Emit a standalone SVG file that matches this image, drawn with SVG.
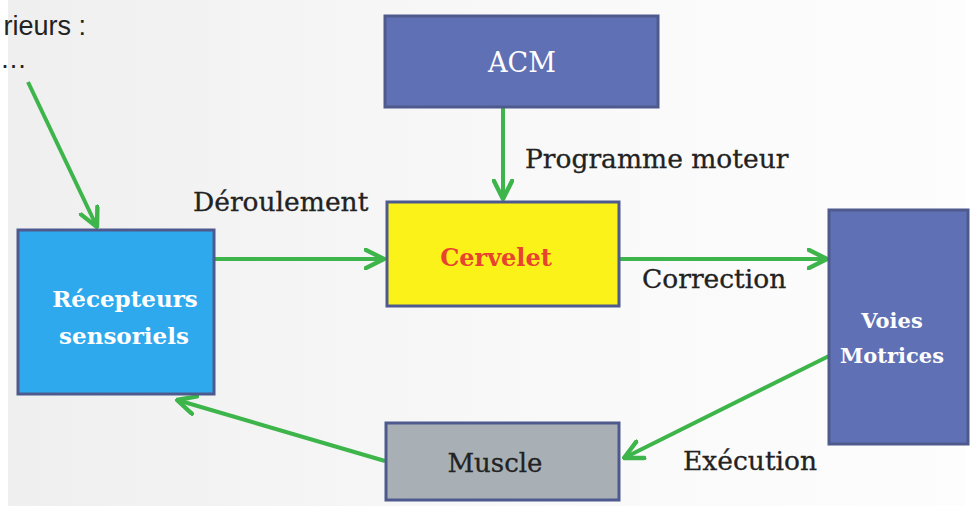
<svg xmlns="http://www.w3.org/2000/svg" width="973" height="507" viewBox="0 0 973 507">
<defs>
<linearGradient id="bg" x1="0" y1="0" x2="1" y2="0">
<stop offset="0" stop-color="#EFEFEF"/>
<stop offset="0.5" stop-color="#F8F8F8"/>
<stop offset="1" stop-color="#FDFDFD"/>
</linearGradient>
<marker id="arr" viewBox="0 0 12 12" refX="11" refY="6" markerWidth="22" markerHeight="22" markerUnits="userSpaceOnUse" orient="auto">
<path d="M1,1 L11,6 L1,11" fill="none" stroke="#3DB54A" stroke-width="2.4" stroke-linecap="round" stroke-linejoin="round"/>
</marker>
</defs>
<style>
.box{stroke:#4E5A8E;stroke-width:3}
.lbl{font-family:"DejaVu Serif","Liberation Serif",serif;font-size:26.5px;fill:#222;stroke:#222;stroke-width:0.3}
.bw{font-family:"DejaVu Serif","Liberation Serif",serif;font-weight:bold;fill:#fff;text-anchor:middle}
.con{stroke:#3DB54A;stroke-width:4;fill:none;marker-end:url(#arr)}
.top{font-family:"Liberation Sans",Arial,sans-serif;font-size:27px;fill:#222}
</style>
<rect x="0" y="0" width="973" height="507" fill="#FFFFFF"/>
<rect x="8" y="0" width="957" height="506" fill="url(#bg)"/>
<text class="top" x="86" y="35" text-anchor="end">rieurs :</text>
<text class="top" x="0" y="68">…</text>
<g id="connectors">
<line class="con" x1="28" y1="82" x2="97" y2="227"/>
<line class="con" x1="503" y1="108" x2="503" y2="199"/>
<line class="con" x1="215" y1="259" x2="384" y2="259"/>
<line class="con" x1="620" y1="259" x2="827" y2="259"/>
<line class="con" x1="829" y1="356" x2="624" y2="458"/>
<line class="con" x1="385" y1="461" x2="177" y2="400"/>
<text class="lbl" x="525" y="168">Programme moteur</text>
<text class="lbl" x="193" y="211">Déroulement</text>
<text class="lbl" x="642" y="288">Correction</text>
<text class="lbl" x="683" y="470">Exécution</text>
</g>
<g id="acm">
<rect class="box" x="385" y="16" width="273" height="91" fill="#6070B4"/>
<text x="522" y="72" font-family="DejaVu Serif, Liberation Serif, serif" font-size="27" fill="#fff" text-anchor="middle">ACM</text>
</g>
<g id="cervelet">
<rect class="box" x="387" y="202" width="232" height="104" fill="#FBF21A"/>
<text x="496" y="266" font-family="DejaVu Serif, Liberation Serif, serif" font-weight="bold" font-size="24" fill="#E8432E" text-anchor="middle">Cervelet</text>
</g>
<g id="recepteurs">
<rect class="box" x="18" y="230" width="196" height="164" fill="#2FA9EE"/>
<text class="bw" x="125" y="307" font-size="23">Récepteurs</text>
<text class="bw" x="124" y="344" font-size="23">sensoriels</text>
</g>
<g id="voies">
<rect class="box" x="829" y="210" width="139" height="234" fill="#6070B4"/>
<text class="bw" x="892" y="328" font-size="21">Voies</text>
<text class="bw" x="892" y="363" font-size="21">Motrices</text>
</g>
<g id="muscle">
<rect class="box" x="386" y="423" width="233" height="77" fill="#A8B0B5"/>
<text x="495" y="472" font-family="DejaVu Serif, Liberation Serif, serif" font-size="26" fill="#222" stroke="#222" stroke-width="0.3" text-anchor="middle">Muscle</text>
</g>
</svg>
